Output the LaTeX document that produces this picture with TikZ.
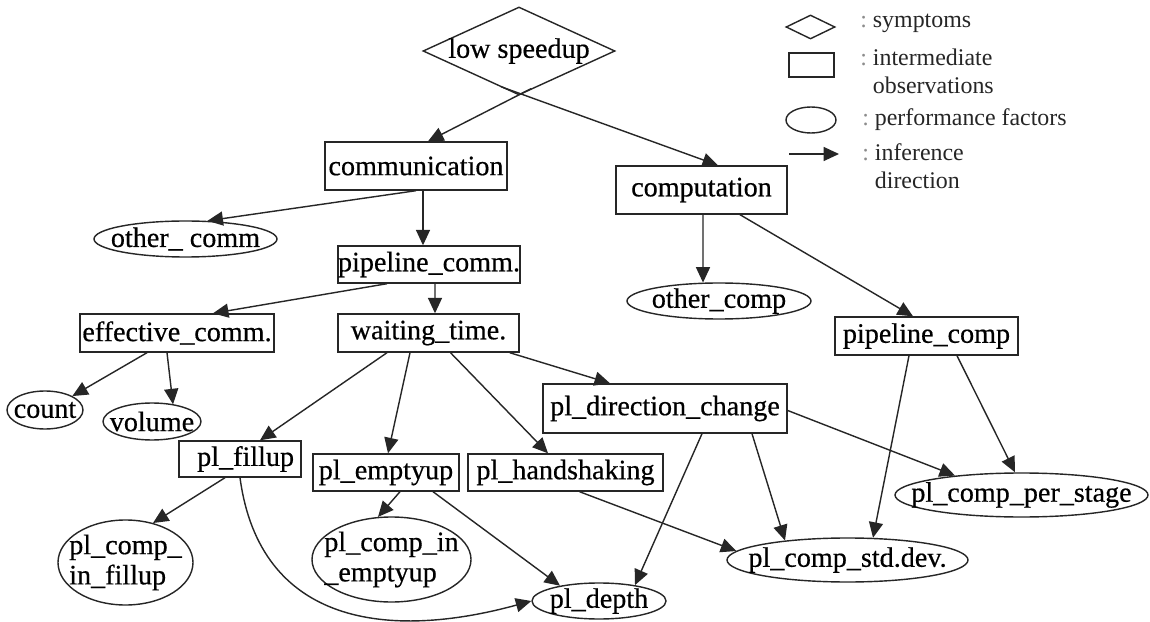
\documentclass[tikz,border=0pt]{standalone}
\usepackage{fontspec}
\setmainfont{Liberation Serif}
\newfontfamily\nodefont[FakeBold=0.5]{Liberation Serif}
\usetikzlibrary{shapes.geometric,arrows.meta,calc}

% one drawing unit
\newcommand\pxu{0.025cm}
\newcommand\lcolon{{\color{black!45}:}\ }

\begin{document}
\begin{tikzpicture}[x=0.025cm,y=-0.025cm,
  sz/.style 2 args={minimum width=#1*\pxu, minimum height=#2*\pxu},
  lbl/.style={font=\nodefont\fontsize{20}{21.5}\selectfont, align=left, inner sep=0pt},
  shp/.style={draw=black!85, line width=1pt, inner sep=0pt, fill=white},
  sym/.style={shp, diamond, label={[lbl]center:#1}},
  obs/.style={shp, rectangle, label={[lbl]center:#1}},
  fac/.style={shp, ellipse, label={[lbl]center:#1}},
  edge/.style={-{Triangle[length=11pt,width=10pt]}, line width=1pt, draw=black!85},
  legtxt/.style={anchor=west, align=left, inner sep=0pt, text=black!85,
                 font=\fontsize{17}{20}\selectfont},
]
\fill[white] (0,0) rectangle (1150,622);
\useasboundingbox (0,0) rectangle (1150,622);

% symptom
\node[sym={low speedup}, sz={192}{88}] (low) at (519,51) {};

% intermediate observations
\node[obs={communication},        sz={182}{48}] (comm)  at (416,166) {};
\node[obs={computation},          sz={171}{48}] (comp)  at (701.5,190) {};
\node[obs={pipeline\_comm.},      sz={182}{37}] (pcomm) at (429,264.5) {};
\node[obs={effective\_comm.},     sz={194}{38}] (ecomm) at (177,333) {};
\node[obs={waiting\_time.},       sz={181}{38}] (wait)  at (428.5,333) {};
\node[obs={pipeline\_comp},       sz={183}{38}] (pcomp) at (926.5,336) {};
\node[obs={\hspace{8pt}pl\_fillup}, sz={122}{36}] (fill) at (240,459) {};
\node[obs={pl\_emptyup},          sz={146}{37}] (empty) at (386,472.5) {};
\node[obs={pl\_handshaking},      sz={195}{37}] (hs)    at (565.5,472.5) {};
\node[obs={pl\_direction\_change},sz={244}{49}] (dir)   at (665,408.5) {};

% performance factors
\node[fac={other\_ comm},         sz={183}{36}] (ocomm) at (185.5,239) {};
\node[fac={other\_comp},          sz={184}{36}] (ocomp) at (719,301) {};
\node[fac={count},                sz={76}{38}]  (count) at (45,410) {};
\node[fac={volume},               sz={98}{37}]  (vol)   at (152,421.5) {};
\node[fac={pl\_comp\_per\_stage}, sz={253}{44}] (ps)    at (1021.5,495) {};
\node[fac={pl\_comp\_std.dev.},   sz={241}{44}] (std)   at (847.5,560) {};
\node[fac={pl\_depth},            sz={134}{36}] (depth) at (599,601) {};
\node[fac={{pl\_comp\_\\in\_fillup}},  sz={135}{85}] (pcif) at (125.5,562.5) {};
\node[fac={{pl\_comp\_in\\\_emptyup}}, sz={159}{85}] (pcie) at (391.5,559.5) {};

% inference edges
\draw[edge] ($(low.south)+(12,-7)$)   -- ($(comm.north)+(12,0)$);
\draw[edge] ($(low.south)+(-18,-9)$)  -- ($(comp.north)+(16.5,0)$);
\draw[edge] (comm.south)              -- ($(ocomm.north)+(22,0.5)$);
\draw[edge] ($(comm.south)+(7,0)$)    -- ($(pcomm.north)+(-6,0)$);
\draw[edge] ($(pcomm.south)+(-42,0)$) -- ($(ecomm.north)+(36,0)$);
\draw[edge] ($(pcomm.south)+(6,0)$)   -- ($(wait.north)+(6.5,0)$);
\draw[edge] ($(comp.south)+(1.5,0)$)  -- ($(ocomp.north)+(-16,0.3)$);
\draw[edge] ($(comp.south)+(38.5,0)$) -- ($(pcomp.north)+(-13.5,0)$);
\draw[edge] ($(ecomm.south)+(-30,0)$) -- (count.north east);
\draw[edge] ($(ecomm.south)+(-10,0)$) -- ($(vol.north)+(21,2)$);
\draw[edge] ($(wait.south)+(-41.5,0)$) -- ($(fill.north)+(20,0)$);
\draw[edge] ($(wait.south)+(-18.5,0)$) -- ($(empty.north)+(2,0)$);
\draw[edge] ($(wait.south)+(22,0)$)   -- ($(hs.north)+(-17.5,0)$);
\draw[edge] ($(wait.south east)+(-10,0)$) -- ($(dir.north)+(-55,0)$);
\draw[edge] ($(fill.south)+(-15,0)$)  -- ($(pcif.north)+(27.5,3.7)$);
\draw[edge] (fill.south) .. controls ($(fill.south)+(20,148)$) and ($(depth.west)+(-142,39)$) .. (depth.west);
\draw[edge] ($(empty.south)+(14,0)$)  -- ($(pcie.north)+(-13.5,0.6)$);
\draw[edge] ($(empty.south)+(47,0)$)  -- ($(depth.north)+(-39,3.4)$);
\draw[edge] ($(hs.south)+(14,0)$)     -- ($(std.west)+(10,-9)$);
\draw[edge] ($(dir.south)+(37,0)$)    -- ($(depth.north)+(36,2.8)$);
\draw[edge] ($(dir.south)+(87,0)$)    -- ($(std.north)+(-62.5,3.2)$);
\draw[edge] ($(dir.east)+(0,2)$)      -- ($(ps.north)+(-66.5,3.3)$);
\draw[edge] ($(pcomp.south)+(-17.5,0)$) -- ($(std.north)+(25.5,0.5)$);
\draw[edge] ($(pcomp.south)+(30.5,0)$)  -- ($(ps.north)+(-6.5,0)$);

% legend
\node[shp, diamond,   sz={49}{24}] (lsym) at (810.5,27) {};
\node[shp, rectangle, sz={45}{24}] (lobs) at (811.5,65) {};
\node[shp, ellipse,   sz={50}{26}] (lfac) at (811,120) {};
\coordinate (la) at (789,154);
\coordinate (lb) at (839,154);
\draw[edge] (la) -- (lb);
\node[legtxt] (t1) at (860,23)  {\lcolon symptoms};
\node[legtxt] (t2) at (860,71)  {\lcolon intermediate\\\hphantom{\lcolon}observations};
\node[legtxt] (t3) at (862,120) {\lcolon performance factors};
\node[legtxt] (t4) at (862,166) {\lcolon inference\\\hphantom{\lcolon}direction};
\end{tikzpicture}
\end{document}
